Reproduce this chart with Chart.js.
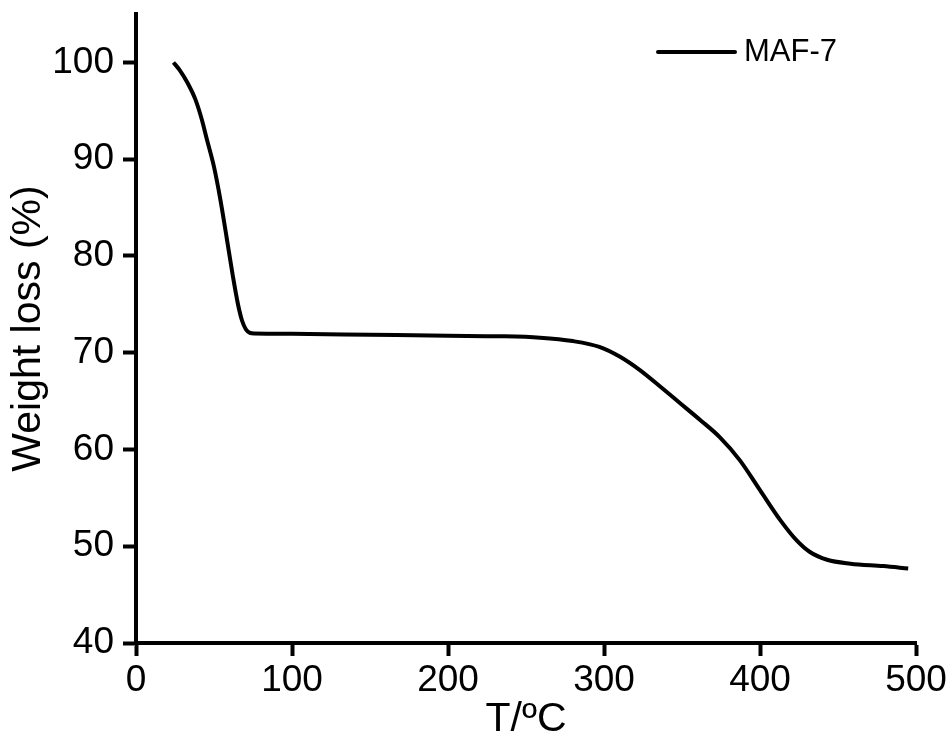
<!DOCTYPE html>
<html>
<head>
<meta charset="utf-8">
<script src="https://cdn.jsdelivr.net/npm/chart.js@4.4.0/dist/chart.umd.min.js"></script>
<style>
  html, body { margin: 0; padding: 0; background: #fff; }
  canvas { display: block; }
</style>
</head>
<body>
<canvas id="tgaChart" width="952" height="740"></canvas>
<script>
// TGA trace of MAF-7
const seriesName = 'MAF-7';
const temperature = [24, 28, 33, 38, 42, 45.5, 50, 54, 58, 62, 65.5, 68, 70.5, 73, 76, 100, 150, 200, 233, 259, 280, 297, 310, 323, 336, 349, 362, 374, 387, 400, 413, 423.5, 432, 443, 458, 479, 495];
const weightPct = [100.0, 99.2, 97.9, 96.2, 94.2, 92.0, 89.2, 85.9, 82.0, 78.0, 74.9, 73.3, 72.4, 72.05, 71.98, 71.95, 71.85, 71.75, 71.7, 71.55, 71.2, 70.6, 69.6, 68.2, 66.5, 64.75, 63.0, 61.3, 58.9, 55.8, 52.7, 50.6, 49.4, 48.6, 48.2, 47.95, 47.7];

// labelled (major) ticks; the steps in between get short minor ticks
const xLabels = [0, 100, 200, 300, 400, 500];
const yLabels = [40, 50, 60, 70, 80, 90, 100];

const FONT = "'Liberation Sans', Arial, sans-serif";
const INK = '#000';
const MAJOR_LEN = 13;
const MINOR_LEN = 7;

const points = temperature.map((t, i) => ({ x: t, y: weightPct[i] }));

// short ticks for the unlabelled steps
const minorTicks = {
    id: 'minorTicks',
    afterDraw(chart) {
        const { ctx, scales: { x, y } } = chart;
        ctx.save();
        ctx.strokeStyle = INK;
        ctx.lineWidth = 4;
        ctx.beginPath();
        x.ticks.forEach(t => {
            if (xLabels.includes(t.value)) return;
            const px = x.getPixelForValue(t.value);
            ctx.moveTo(px, x.top);
            ctx.lineTo(px, x.top + MINOR_LEN);
        });
        y.ticks.forEach(t => {
            if (yLabels.includes(t.value)) return;
            const py = y.getPixelForValue(t.value);
            ctx.moveTo(y.right, py);
            ctx.lineTo(y.right - MINOR_LEN, py);
        });
        ctx.stroke();
        ctx.restore();
    }
};

// line-sample key in the upper right corner
const seriesKey = {
    id: 'seriesKey',
    afterDatasetsDraw(chart) {
        const { ctx } = chart;
        const ds = chart.data.datasets[0];
        const x0 = 658, x1 = 735, yMid = 52;
        ctx.save();
        ctx.strokeStyle = ds.borderColor;
        ctx.lineWidth = ds.borderWidth;
        ctx.lineCap = 'round';
        ctx.beginPath();
        ctx.moveTo(x0, yMid);
        ctx.lineTo(x1, yMid);
        ctx.stroke();
        ctx.fillStyle = INK;
        ctx.font = '31px ' + FONT;
        ctx.textBaseline = 'middle';
        ctx.fillText(ds.label, x1 + 9, yMid);
        ctx.restore();
    }
};

const tickColor = labels => ctx => labels.includes(ctx.tick.value) ? INK : 'rgba(0,0,0,0)';

new Chart(document.getElementById('tgaChart'), {
    type: 'line',
    data: {
        datasets: [{
            label: seriesName,
            data: points,
            borderColor: INK,
            borderWidth: 4,
            pointRadius: 0,
            fill: false,
            cubicInterpolationMode: 'monotone'
        }]
    },
    options: {
        responsive: false,
        animation: false,
        layout: { padding: { top: 14, right: 36, left: 0, bottom: 0 } },
        plugins: {
            legend: { display: false },
            tooltip: { enabled: false }
        },
        scales: {
            x: {
                type: 'linear',
                min: 0,
                max: 500,
                afterFit: s => { s.height = 97; s.paddingLeft = 0; s.paddingRight = 0; },
                ticks: {
                    stepSize: 50,
                    padding: 6,
                    color: INK,
                    font: { family: FONT, size: 37, lineHeight: 1 },
                    maxRotation: 0,
                    autoSkip: false,
                    callback: v => xLabels.includes(v) ? String(v) : null
                },
                grid: {
                    drawOnChartArea: false,
                    tickLength: MAJOR_LEN,
                    tickWidth: 4,
                    tickColor: tickColor(xLabels)
                },
                border: { color: INK, width: 4 },
                title: {
                    display: true,
                    text: 'T/ºC',
                    color: INK,
                    font: { family: FONT, size: 41, lineHeight: 1 },
                    padding: { top: 0, bottom: 0 }
                }
            },
            y: {
                min: 40,
                max: 105,
                afterFit: s => { s.width = 136; s.paddingTop = 0; s.paddingBottom = 0; },
                ticks: {
                    stepSize: 5,
                    padding: 9,
                    color: INK,
                    font: { family: FONT, size: 37, lineHeight: 1 },
                    autoSkip: false,
                    callback: v => yLabels.includes(v) ? String(v) : null
                },
                grid: {
                    drawOnChartArea: false,
                    tickLength: MAJOR_LEN,
                    tickWidth: 4,
                    tickColor: tickColor(yLabels)
                },
                border: { color: INK, width: 4 },
                title: {
                    display: true,
                    text: 'Weight loss (%)',
                    color: INK,
                    font: { family: FONT, size: 41, lineHeight: 1 },
                    padding: { top: 8, bottom: 0 }
                }
            }
        }
    },
    plugins: [minorTicks, seriesKey]
});
</script>
</body>
</html>
